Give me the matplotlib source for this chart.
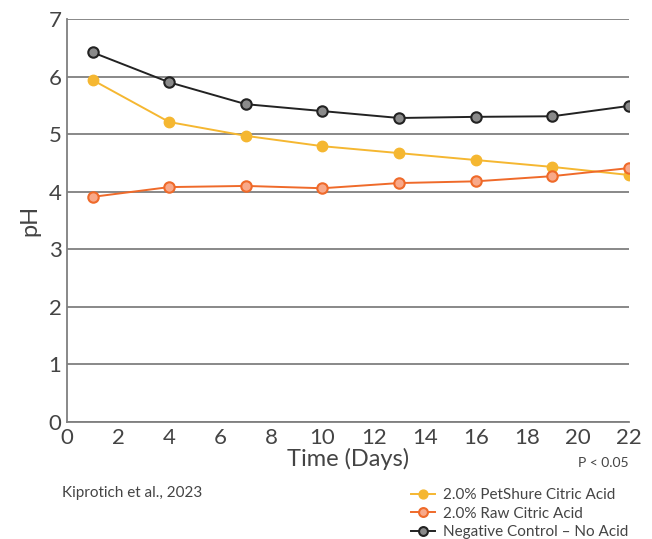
import matplotlib.pyplot as plt

# pH readings over the storage period
days = [1, 4, 7, 10, 13, 16, 19, 22]
petshure = [5.94, 5.21, 4.97, 4.79, 4.67, 4.55, 4.43, 4.29]
raw_citric = [3.91, 4.08, 4.10, 4.06, 4.15, 4.18, 4.27, 4.41]
control = [6.42, 5.90, 5.52, 5.40, 5.28, 5.30, 5.31, 5.49]

plt.rcParams["font.family"] = ["Lato", "DejaVu Sans"]

fig = plt.figure(figsize=(6.52, 5.39), dpi=100)
ax = fig.add_axes([0.1028, 0.2171, 0.862, 0.7477])

ax.plot(days, petshure, color="#F5B731", marker="o", markersize=7.5,
        markerfacecolor="#F5B731", markeredgecolor="#F5B731", linewidth=1.4,
        label="2.0% PetShure Citric Acid", zorder=3)
ax.plot(days, raw_citric, color="#EF6A2A", marker="o", markersize=7.5,
        markerfacecolor="#F8A98A", markeredgecolor="#EF6A2A", markeredgewidth=1.5,
        linewidth=1.4, label="2.0% Raw Citric Acid", zorder=3)
ax.plot(days, control, color="#222222", marker="o", markersize=7.5,
        markerfacecolor="#8A8A8A", markeredgecolor="#222222", markeredgewidth=1.5,
        linewidth=1.4, label="Negative Control \u2013 No Acid", zorder=3)

ax.set_xlim(0, 22)
ax.set_ylim(0, 7)
ax.set_xticks(range(0, 23, 2))
ax.set_yticks(range(0, 8))
ax.tick_params(length=0, labelsize=16, colors="#444444", pad=4)

ax.grid(axis="y", color="#7F7F7F", linewidth=1.3)
ax.set_axisbelow(True)
for side in ["top", "right"]:
    ax.spines[side].set_visible(False)
for side in ["left", "bottom"]:
    ax.spines[side].set_color("#7F7F7F")
    ax.spines[side].set_linewidth(1.3)

ax.set_xlabel("Time (Days)", fontsize=17, color="#444444", labelpad=0)
ax.set_ylabel("pH", fontsize=17, color="#444444", labelpad=6)

fig.text(0.925, 0.141, "P < 0.05", fontsize=10, color="#444444", ha="center", va="center")
fig.text(0.095, 0.085, "Kiprotich et al., 2023", fontsize=11, color="#444444", ha="left", va="center")

fig.legend(loc="lower right", bbox_to_anchor=(0.985, -0.026), frameon=False,
           fontsize=11, handlelength=1.6, labelspacing=0.3, handletextpad=0.5,
           labelcolor="#444444", markerscale=0.85)

plt.savefig("out.png", dpi=100)
